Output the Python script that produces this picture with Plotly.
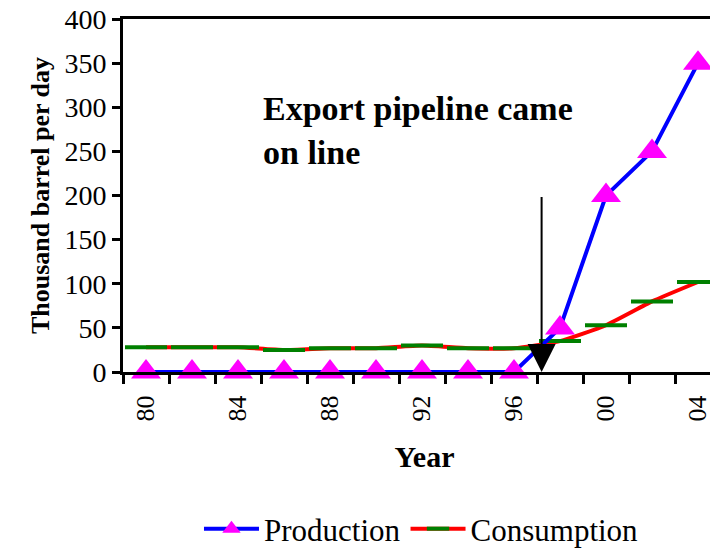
import plotly.graph_objects as go

# ---- data ----
years = [1980, 1982, 1984, 1986, 1988, 1990, 1992, 1994, 1996, 1998, 2000, 2002, 2004]
production = [0, 0, 0, 0, 0, 0, 0, 0, 0, 50, 200, 250, 350]
consumption = [28, 28, 28, 25, 27, 27, 30, 27, 27, 35, 53, 80, 102]
tick_years = [1980, 1984, 1988, 1992, 1996, 2000, 2004]
tick_labels = ["80", "84", "88", "92", "96", "00", "04"]
boundary_years = [1979 + 2 * i for i in range(14)]
pipeline_year = 1997.2
pipeline_top = 200

FONT = "Liberation Serif"

fig = go.Figure()

fig.add_trace(go.Scatter(
    x=years, y=consumption, name="Consumption", mode="lines+markers",
    line=dict(color="#FF0000", width=4, shape="spline", smoothing=0.5),
    marker=dict(symbol="line-ew", size=30, color="#008000",
                line=dict(color="#008000", width=4)),
    legendrank=2, cliponaxis=False,
))
fig.add_trace(go.Scatter(
    x=years, y=production, name="Production", mode="lines+markers",
    line=dict(color="#0000FF", width=4),
    marker=dict(symbol="triangle-up", size=26, color="#FF00FF",
                line=dict(width=0)),
    legendrank=1, cliponaxis=False,
))

fig.add_annotation(
    x=pipeline_year, y=0, ax=pipeline_year, ay=pipeline_top,
    xref="x", yref="y", axref="x", ayref="y",
    showarrow=True, arrowhead=2, arrowsize=2.8, arrowwidth=2,
    arrowcolor="black", text="",
)
fig.add_annotation(
    x=1985.0, y=322, xref="x", yref="y", xanchor="left", yanchor="top",
    align="left", showarrow=False,
    text="<b>Export pipeline came<br>on line</b>",
    font=dict(family=FONT, size=34, color="black"),
)

fig.update_layout(
    width=718, height=548,
    margin=dict(l=115, r=0, t=11, b=183),
    paper_bgcolor="white", plot_bgcolor="white",
    font=dict(family=FONT, color="black"),
    showlegend=True,
    legend=dict(orientation="h", x=0.495, xanchor="center", y=-0.443, yanchor="middle",
                font=dict(family=FONT, size=31, color="black"),
                traceorder="normal", itemwidth=55),
)

fig.update_xaxes(
    range=[1979, 1979 + 603 / 23], showgrid=False, zeroline=False, automargin=False,
    showline=True, linecolor="black", linewidth=3, mirror=True,
    tickmode="array", tickvals=tick_years, ticktext=tick_labels,
    ticks="outside", ticklen=10, tickcolor="rgba(0,0,0,0)",
    tickangle=-90, tickfont=dict(family=FONT, size=26, color="black"),
    minor=dict(tickmode="array", tickvals=boundary_years, ticks="outside",
               ticklen=9, tickwidth=3, tickcolor="black", showgrid=False),
    title=dict(text="<b>Year</b>", font=dict(family=FONT, size=30, color="black"),
               standoff=26),
)
fig.update_yaxes(
    range=[0, 400], dtick=50, showgrid=False, zeroline=False, automargin=False,
    showline=True, linecolor="black", linewidth=3,
    ticks="outside", ticklen=8, tickwidth=3, tickcolor="black",
    ticklabeloverflow="allow",
    tickfont=dict(family=FONT, size=28, color="black"),
    title=dict(text="<b>Thousand barrel per day</b>",
               font=dict(family=FONT, size=26, color="black"), standoff=8),
)

fig.write_html("out.html")
